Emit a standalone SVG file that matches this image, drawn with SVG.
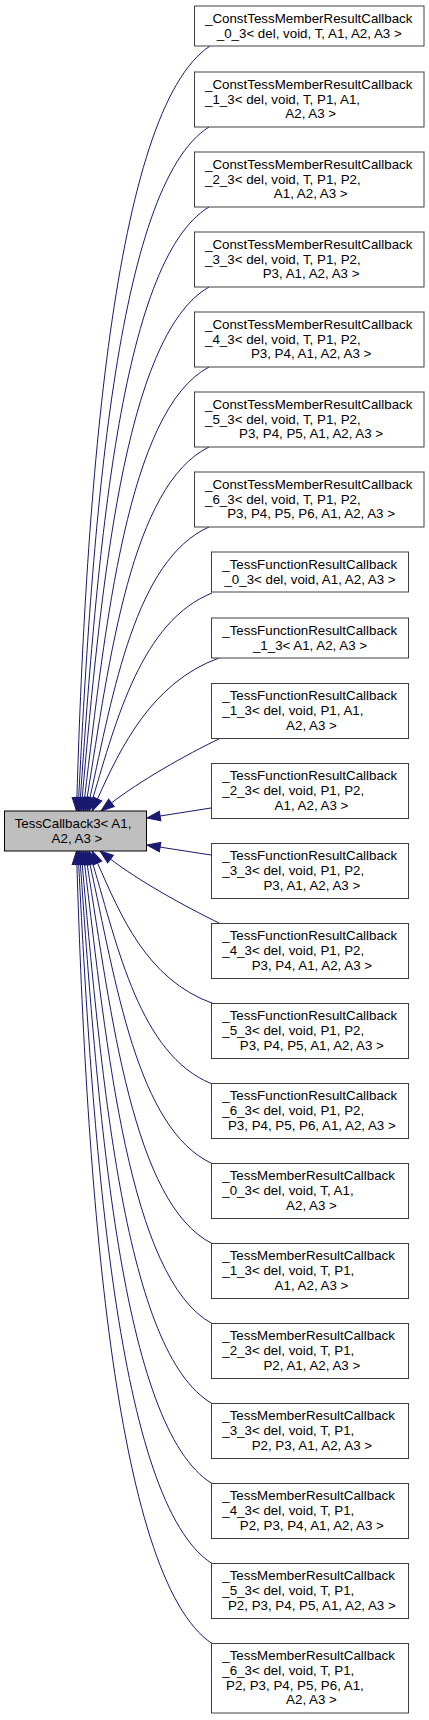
<svg xmlns="http://www.w3.org/2000/svg" width="429" height="1720" viewBox="0 0 429 1720">
<style>
.box{fill:#ffffff;stroke:#404040;stroke-width:1}
.base{fill:#bfbfbf;stroke:#000000;stroke-width:1}
text{font-family:"Liberation Sans",Arial,Helvetica,sans-serif;font-size:13.33px;fill:#000000}
.s{text-anchor:start}
.m{text-anchor:middle}
.e{fill:none;stroke:#191970;stroke-width:1;marker-end:url(#arr)}
</style>
<defs>
<marker id="arr" markerUnits="userSpaceOnUse" viewBox="-1 -6 16 12" markerWidth="16" markerHeight="12" refX="0" refY="0" orient="auto">
<path d="M0,-4.7 L13.3,0 L0,4.7 Z" fill="#191970" stroke="#191970" stroke-width="1"/>
</marker>
</defs>
<rect width="429" height="1720" fill="#ffffff"/>
<g id="connectors">
<path class="e" d="M210,46 C112.4,109.9 85.9,497.1 76.9,797.7"/>
<path class="e" d="M209,127 C115.5,185.6 92.1,529.7 78.7,797.7"/>
<path class="e" d="M209,207 C119.5,260.4 96.9,562 80.4,797.7"/>
<path class="e" d="M209,287 C123.5,335.2 100.5,594.3 82.2,797.8"/>
<path class="e" d="M209,367 C127.5,410 105.1,627 84.6,797.8"/>
<path class="e" d="M209,447 C131.5,484.8 109.3,659.3 87.1,797.9"/>
<path class="e" d="M209,527 C135.4,559.6 113.1,692.5 89.9,798"/>
<path class="e" d="M212,593 C141.7,621.3 116.4,719.6 92.8,798.3"/>
<path class="e" d="M219,658 C152,682.2 120.6,747.5 97.5,798.9"/>
<path class="e" d="M221,738 C185,755 139.3,781.5 111.5,802.9"/>
<path class="e" d="M211,808 L160.1,816"/>
<path class="e" d="M211,855 L160.1,847.1"/>
<path class="e" d="M220,923.5 C184,906 138.3,880.5 110.5,859.1"/>
<path class="e" d="M213,1003.5 C146,979.4 120.5,914.4 97.5,863.1"/>
<path class="e" d="M211,1083.5 C140,1054.2 118,947.9 92.8,863.7"/>
<path class="e" d="M212,1163.5 C137,1129 115.7,981 89.9,864"/>
<path class="e" d="M212,1243.5 C133,1203.8 111.1,1013.9 87.1,864.1"/>
<path class="e" d="M212,1323.5 C129,1278.6 106.5,1046.6 84.6,864.2"/>
<path class="e" d="M212,1403.5 C125,1353.5 101.5,1079 82.2,864.2"/>
<path class="e" d="M212,1483.5 C121,1428.3 97.7,1111.4 80.4,864.3"/>
<path class="e" d="M212,1563.5 C117,1503.1 92.7,1143.7 78.7,864.3"/>
<path class="e" d="M212,1643.5 C113,1577.9 86.3,1175.9 76.9,864.3"/>
</g>
<g id="node-base">
<rect class="base" x="4.5" y="811" width="142" height="40"/>
<text class="s" x="14.7" y="827.8">TessCallback3&lt; A1,</text>
<text class="m" x="75.5" y="842.5" xml:space="preserve"> A2, A3 &gt;</text>
</g>
<g id="node-const0">
<rect class="box" x="194.5" y="6" width="229.5" height="40"/>
<text class="s" x="205" y="22.8">_ConstTessMemberResultCallback</text>
<text class="m" x="309.25" y="37.5">_0_3&lt; del, void, T, A1, A2, A3 &gt;</text>
</g>
<g id="node-const1">
<rect class="box" x="194.5" y="72" width="229.5" height="55"/>
<text class="s" x="205" y="88.8">_ConstTessMemberResultCallback</text>
<text class="s" x="205" y="103.5">_1_3&lt; del, void, T, P1, A1,</text>
<text class="m" x="309.25" y="118.1" xml:space="preserve"> A2, A3 &gt;</text>
</g>
<g id="node-const2">
<rect class="box" x="194.5" y="152" width="229.5" height="55"/>
<text class="s" x="205" y="168.8">_ConstTessMemberResultCallback</text>
<text class="s" x="205" y="183.5">_2_3&lt; del, void, T, P1, P2,</text>
<text class="m" x="309.25" y="198.1" xml:space="preserve"> A1, A2, A3 &gt;</text>
</g>
<g id="node-const3">
<rect class="box" x="194.5" y="232" width="229.5" height="55"/>
<text class="s" x="205" y="248.8">_ConstTessMemberResultCallback</text>
<text class="s" x="205" y="263.5">_3_3&lt; del, void, T, P1, P2,</text>
<text class="m" x="309.25" y="278.1" xml:space="preserve"> P3, A1, A2, A3 &gt;</text>
</g>
<g id="node-const4">
<rect class="box" x="194.5" y="312" width="229.5" height="55"/>
<text class="s" x="205" y="328.8">_ConstTessMemberResultCallback</text>
<text class="s" x="205" y="343.5">_4_3&lt; del, void, T, P1, P2,</text>
<text class="m" x="309.25" y="358.1" xml:space="preserve"> P3, P4, A1, A2, A3 &gt;</text>
</g>
<g id="node-const5">
<rect class="box" x="194.5" y="392" width="229.5" height="55"/>
<text class="s" x="205" y="408.8">_ConstTessMemberResultCallback</text>
<text class="s" x="205" y="423.5">_5_3&lt; del, void, T, P1, P2,</text>
<text class="m" x="309.25" y="438.1" xml:space="preserve"> P3, P4, P5, A1, A2, A3 &gt;</text>
</g>
<g id="node-const6">
<rect class="box" x="194.5" y="472" width="229.5" height="55"/>
<text class="s" x="205" y="488.8">_ConstTessMemberResultCallback</text>
<text class="s" x="205" y="503.5">_6_3&lt; del, void, T, P1, P2,</text>
<text class="m" x="309.25" y="518.1" xml:space="preserve"> P3, P4, P5, P6, A1, A2, A3 &gt;</text>
</g>
<g id="node-func0">
<rect class="box" x="211.5" y="552" width="197" height="40"/>
<text class="s" x="222.3" y="568.8">_TessFunctionResultCallback</text>
<text class="m" x="310" y="583.5">_0_3&lt; del, void, A1, A2, A3 &gt;</text>
</g>
<g id="node-func1a">
<rect class="box" x="211.5" y="618" width="197" height="40"/>
<text class="s" x="222.3" y="634.8">_TessFunctionResultCallback</text>
<text class="m" x="310" y="649.5">_1_3&lt; A1, A2, A3 &gt;</text>
</g>
<g id="node-func1">
<rect class="box" x="211.5" y="683.5" width="197" height="55"/>
<text class="s" x="222.3" y="700.3">_TessFunctionResultCallback</text>
<text class="s" x="222.3" y="715">_1_3&lt; del, void, P1, A1,</text>
<text class="m" x="310" y="729.6" xml:space="preserve"> A2, A3 &gt;</text>
</g>
<g id="node-func2">
<rect class="box" x="211.5" y="763.5" width="197" height="55"/>
<text class="s" x="222.3" y="780.3">_TessFunctionResultCallback</text>
<text class="s" x="222.3" y="795">_2_3&lt; del, void, P1, P2,</text>
<text class="m" x="310" y="809.6" xml:space="preserve"> A1, A2, A3 &gt;</text>
</g>
<g id="node-func3">
<rect class="box" x="211.5" y="843.5" width="197" height="55"/>
<text class="s" x="222.3" y="860.3">_TessFunctionResultCallback</text>
<text class="s" x="222.3" y="875">_3_3&lt; del, void, P1, P2,</text>
<text class="m" x="310" y="889.6" xml:space="preserve"> P3, A1, A2, A3 &gt;</text>
</g>
<g id="node-func4">
<rect class="box" x="211.5" y="923.5" width="197" height="55"/>
<text class="s" x="222.3" y="940.3">_TessFunctionResultCallback</text>
<text class="s" x="222.3" y="955">_4_3&lt; del, void, P1, P2,</text>
<text class="m" x="310" y="969.6" xml:space="preserve"> P3, P4, A1, A2, A3 &gt;</text>
</g>
<g id="node-func5">
<rect class="box" x="211.5" y="1003.5" width="197" height="55"/>
<text class="s" x="222.3" y="1020.3">_TessFunctionResultCallback</text>
<text class="s" x="222.3" y="1035">_5_3&lt; del, void, P1, P2,</text>
<text class="m" x="310" y="1049.6" xml:space="preserve"> P3, P4, P5, A1, A2, A3 &gt;</text>
</g>
<g id="node-func6">
<rect class="box" x="211.5" y="1083.5" width="197" height="55"/>
<text class="s" x="222.3" y="1100.3">_TessFunctionResultCallback</text>
<text class="s" x="222.3" y="1115">_6_3&lt; del, void, P1, P2,</text>
<text class="m" x="310" y="1129.6" xml:space="preserve"> P3, P4, P5, P6, A1, A2, A3 &gt;</text>
</g>
<g id="node-member0">
<rect class="box" x="211.5" y="1163.5" width="197" height="55"/>
<text class="s" x="222.3" y="1180.3">_TessMemberResultCallback</text>
<text class="s" x="222.3" y="1195">_0_3&lt; del, void, T, A1,</text>
<text class="m" x="310" y="1209.6" xml:space="preserve"> A2, A3 &gt;</text>
</g>
<g id="node-member1">
<rect class="box" x="211.5" y="1243.5" width="197" height="55"/>
<text class="s" x="222.3" y="1260.3">_TessMemberResultCallback</text>
<text class="s" x="222.3" y="1275">_1_3&lt; del, void, T, P1,</text>
<text class="m" x="310" y="1289.6" xml:space="preserve"> A1, A2, A3 &gt;</text>
</g>
<g id="node-member2">
<rect class="box" x="211.5" y="1323.5" width="197" height="55"/>
<text class="s" x="222.3" y="1340.3">_TessMemberResultCallback</text>
<text class="s" x="222.3" y="1355">_2_3&lt; del, void, T, P1,</text>
<text class="m" x="310" y="1369.6" xml:space="preserve"> P2, A1, A2, A3 &gt;</text>
</g>
<g id="node-member3">
<rect class="box" x="211.5" y="1403.5" width="197" height="55"/>
<text class="s" x="222.3" y="1420.3">_TessMemberResultCallback</text>
<text class="s" x="222.3" y="1435">_3_3&lt; del, void, T, P1,</text>
<text class="m" x="310" y="1449.6" xml:space="preserve"> P2, P3, A1, A2, A3 &gt;</text>
</g>
<g id="node-member4">
<rect class="box" x="211.5" y="1483.5" width="197" height="55"/>
<text class="s" x="222.3" y="1500.3">_TessMemberResultCallback</text>
<text class="s" x="222.3" y="1515">_4_3&lt; del, void, T, P1,</text>
<text class="m" x="310" y="1529.6" xml:space="preserve"> P2, P3, P4, A1, A2, A3 &gt;</text>
</g>
<g id="node-member5">
<rect class="box" x="211.5" y="1563.5" width="197" height="55"/>
<text class="s" x="222.3" y="1580.3">_TessMemberResultCallback</text>
<text class="s" x="222.3" y="1595">_5_3&lt; del, void, T, P1,</text>
<text class="m" x="310" y="1609.6" xml:space="preserve"> P2, P3, P4, P5, A1, A2, A3 &gt;</text>
</g>
<g id="node-member6">
<rect class="box" x="211.5" y="1643.5" width="197" height="69.5"/>
<text class="s" x="222.3" y="1660.3">_TessMemberResultCallback</text>
<text class="s" x="222.3" y="1675">_6_3&lt; del, void, T, P1,</text>
<text class="s" x="222.3" y="1689.6" xml:space="preserve"> P2, P3, P4, P5, P6, A1,</text>
<text class="m" x="310" y="1704.3" xml:space="preserve"> A2, A3 &gt;</text>
</g>
</svg>
